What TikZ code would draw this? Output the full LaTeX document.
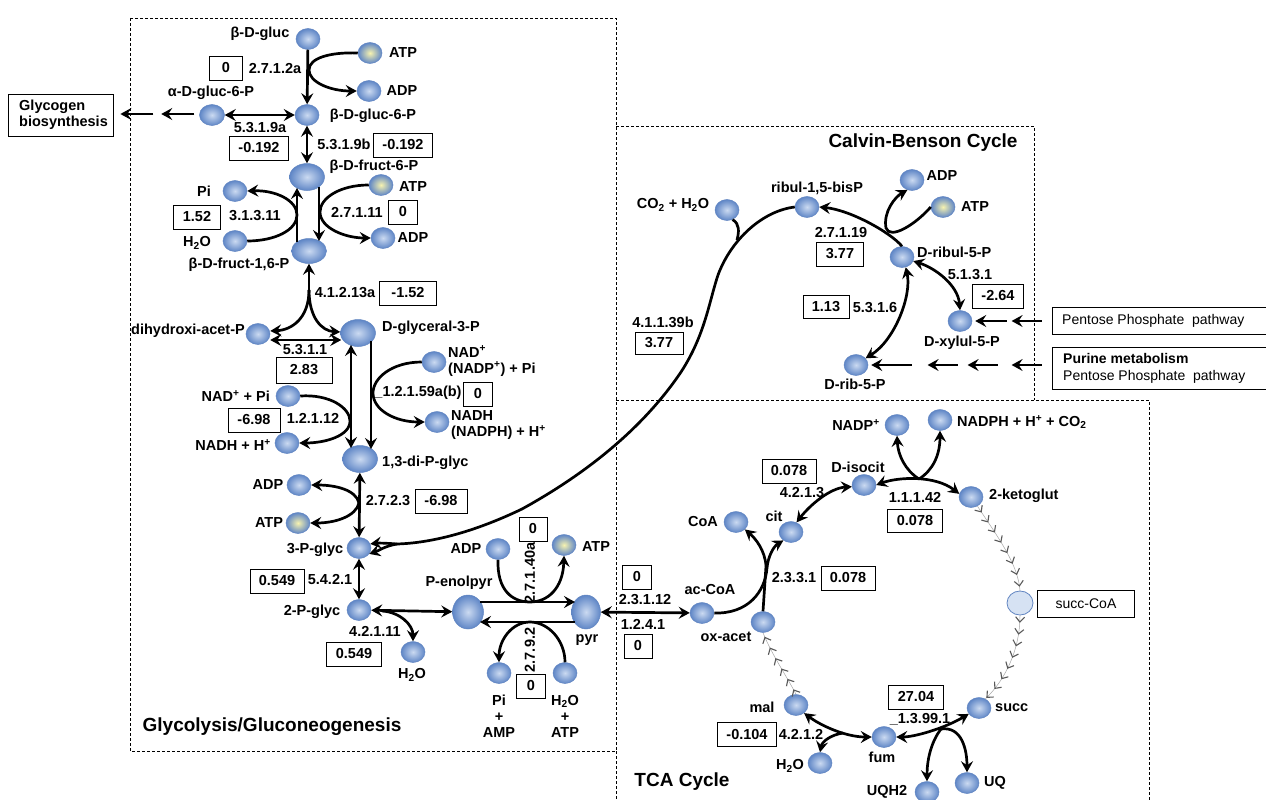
\documentclass[tikz,border=0pt]{standalone}
\usepackage{fontspec}
\setmainfont{Liberation Sans}
\usetikzlibrary{shapes.geometric,arrows.meta,calc,decorations.markings}
\definecolor{ci}{HTML}{CBDAF1}
\definecolor{co}{HTML}{5F86C6}
\definecolor{cb}{HTML}{6286C2}
\definecolor{yi}{HTML}{F7F3B0}
\definecolor{sc}{HTML}{D6E2F3}
\newcommand\labfont{\fontsize{14.5}{16}\selectfont\bfseries}
\newcommand\ttlfont{\fontsize{19}{22}\selectfont\bfseries}
\newcommand\boxfont{\fontsize{14}{17}\selectfont}
\begin{document}
\begin{tikzpicture}[x=1pt,y=-1pt,
  met/.style={ellipse, draw=cb, line width=0.5pt, inner color=ci, outer color=co, minimum width=24pt, minimum height=21pt, inner sep=0pt},
  metbig/.style={met, minimum width=35pt, minimum height=27pt},
  atpn/.style={met, inner color=yi},
  lab/.style={font=\labfont, inner sep=0pt},
  ttl/.style={font=\ttlfont, inner sep=0pt},
  num/.style={draw, line width=0.8pt, font=\labfont, inner sep=0pt, minimum height=24pt, minimum width=#1},
  num/.default=29pt,
  arr/.style={line width=2.7pt, -{Stealth[length=11pt,width=12pt,inset=4pt]}},
  darr/.style={line width=2.7pt, {Stealth[length=11pt,width=12pt,inset=4pt]}-{Stealth[length=11pt,width=12pt,inset=4pt]}},
  pln/.style={line width=2.7pt},
  dbox/.style={line width=0.7pt, dash pattern=on 3pt off 2pt},
  chev/.style={draw=gray!70, line width=0.5pt, postaction={decorate}, decoration={markings, mark=between positions 0.08 and 0.99 step 12pt with {\arrow[gray!70!black]{Straight Barb[length=5pt,width=9pt,line width=1.1pt]}}}},
]
\useasboundingbox (0,0) rectangle (1266,800);
\fill[white] (0,0) rectangle (1266,800);

% ---------- dashed region boxes
\draw[dbox] (130,18) rectangle (616,751);
\draw[dbox] (616,126) -- (1034,126) -- (1034,400);
\draw[dbox] (616,400) -- (1149,400) -- (1149,805);
\draw[dbox] (616,751) -- (616,805);

\node[ttl] (tglyc) at (272,727) {Glycolysis/Gluconeogenesis};
\node[ttl] (tcalv) at (923,143) {Calvin-Benson Cycle};
\node[ttl] (ttca) at (682,782) {TCA Cycle};

% ---------- side boxes
\node[draw, line width=0.8pt, minimum width=105pt, minimum height=42pt, inner sep=0pt] (glyb) at (60.5,115) {};
\node[lab, align=left, anchor=west] (tglyb) at (19,115) {Glycogen\\biosynthesis};
\node[draw, line width=0.8pt, minimum width=214pt, minimum height=27pt, inner sep=0pt] (ppp) at (1159,321) {};
\node[font=\boxfont, anchor=west, inner sep=0pt] (tppp) at (1062,321) {Pentose Phosphate\ \ pathway};
\node[draw, line width=0.8pt, minimum width=214pt, minimum height=42pt, inner sep=0pt] (pur) at (1159,368) {};
\node[font=\boxfont, anchor=west, inner sep=0pt, align=left] (tpur) at (1063,368) {\textbf{Purine metabolism}\\Pentose Phosphate\ \ pathway};

% ---------- glycolysis metabolites
\node[met] (gluc) at (308,39) {};
\node[atpn] (atp1) at (370,53) {};
\node[met] (adp1) at (369,91) {};
\node[met] (g6p) at (307,115) {};
\node[met, minimum width=25pt] (ag6p) at (212,115) {};
\node[metbig] (f6p) at (307,177) {};
\node[atpn] (atp2) at (381,185) {};
\node[met] (adp2) at (383,238) {};
\node[met] (pi1) at (235,191) {};
\node[met] (h2o1) at (235,241) {};
\node[metbig, minimum height=25pt] (f16p) at (309,251) {};
\node[met] (dhap) at (258,334) {};
\node[metbig] (gap) at (358,333) {};
\node[met] (nadpi2) at (434,362) {};
\node[met] (nadh2) at (437,422) {};
\node[met] (nadpi1) at (288,396) {};
\node[met] (nadh1) at (287,443) {};
\node[metbig] (bpg) at (360,459) {};
\node[met] (adp3) at (299,485) {};
\node[atpn] (atp3) at (298,523) {};
\node[met] (pg3) at (359,548) {};
\node[met] (pg2) at (359,610) {};
\node[met] (h2o2) at (413,652) {};
\node[met, minimum width=31pt, minimum height=34pt] (pep) at (468,612) {};
\node[met, minimum width=29pt, minimum height=34pt] (pyr) at (586,612) {};
\node[met] (adp4) at (498,549) {};
\node[atpn] (atp4) at (564,545) {};
\node[met] (piamp) at (499,673) {};
\node[met] (h2oatp) at (565,673) {};

% glycolysis labels
\node[lab] (t1) at (260,34) {β-D-gluc};
\node[lab] (t2) at (403,53) {ATP};
\node[lab] (t3) at (402,91) {ADP};
\node[lab] (t4) at (373,116) {β-D-gluc-6-P};
\node[lab] (t5) at (211,93) {α-D-gluc-6-P};
\node[num=33pt] (b1) at (226,68) {0};
\node[lab] (t6) at (275,69) {2.7.1.2a};
\node[lab] (t7) at (260,128) {5.3.1.9a};
\node[num=59pt] (b2) at (259,148) {-0.192};
\node[lab] (t8) at (344,144) {5.3.1.9b};
\node[num=59pt] (b3) at (403,145) {-0.192};
\node[lab] (t9) at (374,167) {β-D-fruct-6-P};
\node[lab] (t10) at (413,187) {ATP};
\node[lab] (t11) at (357,212) {2.7.1.11};
\node[num] (b4) at (403,212) {0};
\node[lab] (t12) at (413,238) {ADP};
\node[lab] (t13) at (204,191) {Pi};
\node[num=47pt] (b5) at (197,217) {1.52};
\node[lab] (t14) at (255,216) {3.1.3.11};
\node[lab] (t15) at (197,243) {H\textsubscript{2}O};
\node[lab] (t16) at (239,265) {β-D-fruct-1,6-P};
\node[lab] (t17) at (345,293) {4.1.2.13a};
\node[num=57pt] (b6) at (408,293) {-1.52};
\node[lab, anchor=east] (t18) at (245,331) {dihydroxi-acet-P};
\node[lab, anchor=west] (t19) at (382,328) {D-glyceral-3-P};
\node[lab] (t20) at (305,350) {5.3.1.1};
\node[num=56pt, minimum height=26pt] (b7) at (304,370) {2.83};
\node[lab, align=left, anchor=west] (t21) at (448,361) {NAD\textsuperscript{+}\\(NADP\textsuperscript{+}) + Pi};
\node[lab] (t22) at (418,393) {\_1.2.1.59a(b)};
\node[num] (b8) at (478,394) {0};
\node[lab, align=left, anchor=west] (t23) at (451,425) {NADH\\(NADPH) + H\textsuperscript{+}};
\node[lab, anchor=east] (t24) at (270,396) {NAD\textsuperscript{+} + Pi};
\node[num=52pt] (b9) at (254,420) {-6.98};
\node[lab] (t25) at (313,418) {1.2.1.12};
\node[lab, anchor=east] (t26) at (271,445) {NADH + H\textsuperscript{+}};
\node[lab, anchor=west] (t27) at (382,463) {1,3-di-P-glyc};
\node[lab] (t28) at (268,485) {ADP};
\node[lab] (t29) at (269,523) {ATP};
\node[lab] (t30) at (388,501) {2.7.2.3};
\node[num=52pt] (b10) at (441,501) {-6.98};
\node[lab] (t31) at (315,550) {3-P-glyc};
\node[num=54pt] (b11) at (277,581) {0.549};
\node[lab] (t32) at (330,580) {5.4.2.1};
\node[lab] (t33) at (312,612) {2-P-glyc};
\node[lab] (t34) at (375,631) {4.2.1.11};
\node[num=55pt] (b12) at (354,654) {0.549};
\node[lab] (t35) at (412,675) {H\textsubscript{2}O};
\node[num=28pt] (b13) at (533,529) {0};
\node[lab] (t36) at (466,549) {ADP};
\node[lab] (t37) at (596,547) {ATP};
\node[lab, rotate=90] (t38) at (530,573) {2.7.1.40a};
\node[lab] (t39) at (459,583) {P-enolpyr};
\node[lab] (t40) at (587,640) {pyr};
\node[lab, rotate=90] (t41) at (530,650) {2.7.9.2};
\node[num] (b14) at (531,686) {0};
\node[lab, align=center] (t42) at (499,716) {Pi\\+\\AMP};
\node[lab, align=center] (t43) at (565,716) {H\textsubscript{2}O\\+\\ATP};

% ---------- TCA
\node[num] (b15) at (637,577) {0};
\node[lab] (t44) at (645,600) {2.3.1.12};
\node[lab] (t45) at (643,624) {1.2.4.1};
\node[num=28pt] (b16) at (638,646) {0};
\node[met] (acoa) at (702,613) {};
\node[lab] (t46) at (710,590) {ac-CoA};
\node[met] (oxac) at (763,622) {};
\node[lab] (t47) at (726,637) {ox-acet};
\node[met] (coa) at (736,522) {};
\node[lab] (t48) at (703,522) {CoA};
\node[met] (cit) at (791,532) {};
\node[lab] (t49) at (774,516) {cit};
\node[lab] (t50) at (794,578) {2.3.3.1};
\node[num=54pt] (b17) at (848,578) {0.078};
\node[met] (isocit) at (864,485) {};
\node[lab] (t51) at (858,467) {D-isocit};
\node[num=54pt] (b18) at (789,471) {0.078};
\node[lab] (t52) at (802,493) {4.2.1.3};
\node[met] (nadp) at (897,425) {};
\node[lab] (t53) at (856,425) {NADP\textsuperscript{+}};
\node[met] (nadph) at (940,420) {};
\node[lab, anchor=west] (t54) at (957,422) {NADPH + H\textsuperscript{+} + CO\textsubscript{2}};
\node[met] (kg) at (971,497) {};
\node[lab, anchor=west] (t55) at (989,496) {2-ketoglut};
\node[lab] (t56) at (915,497) {1.1.1.42};
\node[num=55pt, minimum height=23pt] (b19) at (915,521) {0.078};
\node[ellipse, draw=cb, line width=0.8pt, fill=sc, minimum width=26pt, minimum height=24pt, inner sep=0pt] (succoa) at (1020,603) {};
\node[draw, line width=0.8pt, font=\boxfont, minimum width=97pt, minimum height=27pt, inner sep=0pt] (bsc) at (1086,604) {succ-CoA};
\node[met] (succ) at (979,708) {};
\node[lab, anchor=west] (t57) at (995,708) {succ};
\node[met] (fum) at (884,737) {};
\node[lab] (t58) at (882,757) {fum};
\node[met] (mal) at (796,705) {};
\node[lab] (t59) at (762,707) {mal};
\node[num=59pt] (b20) at (747,734) {-0.104};
\node[lab] (t60) at (801,734) {4.2.1.2};
\node[met] (h2o3) at (820,763) {};
\node[lab] (t61) at (790,766) {H\textsubscript{2}O};
\node[num=55pt] (b21) at (916,697) {27.04};
\node[lab] (t62) at (920,719) {\_1.3.99.1};
\node[met] (uqh2) at (927,792) {};
\node[lab] (t63) at (887,792) {UQH2};
\node[met] (uq) at (967,783) {};
\node[lab] (t64) at (995,783) {UQ};

% ---------- Calvin
\node[met] (co2) at (727,210) {};
\node[lab] (t65) at (673,205) {CO\textsubscript{2} + H\textsubscript{2}O};
\node[met] (rubp) at (807,207) {};
\node[lab] (t66) at (817,188) {ribul-1,5-bisP};
\node[met] (adp5) at (912,180) {};
\node[lab] (t67) at (942,176) {ADP};
\node[atpn] (atp5) at (943,207) {};
\node[lab] (t68) at (975,207) {ATP};
\node[met] (ru5p) at (902,257) {};
\node[lab, anchor=west] (t69) at (917,252) {D-ribul-5-P};
\node[lab] (t70) at (841,233) {2.7.1.19};
\node[num=47pt] (b22) at (840,254) {3.77};
\node[lab] (t71) at (663,322) {4.1.1.39b};
\node[num=48pt, minimum height=22pt] (b23) at (659,343) {3.77};
\node[num=46pt, minimum height=23pt] (b24) at (826,307) {1.13};
\node[lab] (t72) at (875,308) {5.3.1.6};
\node[met] (r5p) at (856,365) {};
\node[lab] (t73) at (855,384) {D-rib-5-P};
\node[lab] (t74) at (970,275) {5.1.3.1};
\node[num=51pt] (b25) at (998,296) {-2.64};
\node[met] (xu5p) at (960,321) {};
\node[lab] (t75) at (962,343) {D-xylul-5-P};

% ---------- glycolysis connectors
\draw[arr] (gluc) -- (g6p);
\draw[arr] (atp1.west) .. controls (330,52) and (309,58) .. (309,70) .. controls (309,82) and (330,91) .. (adp1.west);
\draw[darr] (ag6p) -- (g6p);
\draw[arr] ($(ag6p.west)+(-5,-1)$) -- ($(ag6p.west)+(-38,-1)$);
\draw[arr] ($(glyb.east)+(40,-1)$) -- ($(glyb.east)+(7,-1)$);
\draw[darr] (g6p) -- (f6p);
\draw[arr] ($(f6p.center)+(12,10)$) -- ($(f16p.center)+(10,-10)$);
\draw[arr] (atp2.west) .. controls (340,185) and (320,198) .. (320,212) .. controls (320,228) and (345,238) .. (adp2.west);
\draw[arr] ($(f16p.center)+(-12,-9)$) -- ($(f6p.center)+(-10,11)$);
\draw[arr] (h2o1.east) .. controls (275,241) and (297,230) .. (297,215) .. controls (297,200) and (275,190) .. (pi1.east);
\coordinate (j1) at (309,290);
\draw[arr] (j1) -- (f16p.south);
\draw[arr] (j1) .. controls (309,318) and (292,330) .. ($(dhap.east)+(0,-3)$);
\draw[arr] (j1) .. controls (309,318) and (322,331) .. ($(gap.west)+(0,-1)$);
\draw[darr] ($(dhap.east)+(0,6)$) -- ($(gap.west)+(1,7)$);
\draw[darr] ($(gap.center)+(-7,12)$) -- ($(bpg.center)+(-9,-11)$);
\draw[arr] ($(gap.center)+(13,8)$) -- ($(bpg.center)+(11,-10)$);
\draw[arr] (nadpi1.east) .. controls (330,394) and (350,408) .. (350,421) .. controls (350,436) and (325,443) .. (nadh1.east);
\draw[arr] (nadpi2.west) .. controls (392,362) and (373,378) .. (373,393) .. controls (373,410) and (395,422) .. (nadh2.west);
\draw[darr] (bpg) -- (pg3);
\coordinate (j3) at (359,503);
\draw[arr] (j3) .. controls (356,490) and (336,485) .. (adp3.east);
\draw[arr] (j3) .. controls (356,516) and (336,523) .. (atp3.east);
\draw[darr] (pg3) -- (pg2);
\draw[darr] (pg2) -- (pep);
\coordinate (j4) at (382,611);
\draw[arr] (j4) .. controls (400,612) and (413,625) .. (h2o2.north);
\draw[arr] ($(pep.center)+(12,-10)$) -- ($(pyr.center)+(-11,-10)$);
\draw[arr] (adp4.south) .. controls (497,590) and (512,602) .. (530,602) .. controls (548,602) and (563,588) .. (atp4.south);
\draw[arr] ($(pyr.center)+(-11,10)$) -- ($(pep.center)+(12,10)$);
\draw[arr] (h2oatp.north) .. controls (565,640) and (548,622) .. (530,622) .. controls (512,622) and (499,640) .. (piamp.north);

% ---------- TCA connectors
\draw[darr] (pyr) -- (acoa);
\coordinate (j5) at (766,566);
\draw[arr] (acoa.east) .. controls (748,614) and (765,592) .. (767,568) .. controls (768,556) and (774,546) .. (cit.228);
\draw[pln] (oxac.north) -- (j5);
\draw[arr] (j5) .. controls (765,550) and (755,538) .. (coa.-40);
\draw[darr] (cit.60) .. controls (810,505) and (830,488) .. (isocit.188);
\coordinate (j6) at (919,479);
\draw[darr] (isocit.east) .. controls (898,477) and (935,475) .. (kg.165);
\draw[arr] (j6) .. controls (905,470) and (898,455) .. (nadp.south);
\draw[arr] (j6) .. controls (933,470) and (940,455) .. (nadph.south);
\draw[chev] (kg.-55) .. controls (1000,540) and (1018,565) .. (succoa.north);
\draw[chev] (succoa.south) .. controls (1020,650) and (1005,680) .. (succ.55);
\draw[chev] (mal.north) .. controls (786,675) and (772,655) .. (oxac.south);
\coordinate (j7) at (941,729);
\draw[darr] (fum.east) .. controls (915,737) and (945,728) .. (succ.-150);
\draw[arr] (j7) .. controls (931,742) and (927,760) .. (uqh2.north);
\draw[arr] (j7) .. controls (962,726) and (967,750) .. (uq.north);
\coordinate (j8) at (843,733);
\draw[darr] (mal.-45) .. controls (820,725) and (845,737) .. (fum.west);
\draw[arr] (j8) .. controls (830,735) and (822,742) .. (h2o3.north);

% ---------- Calvin connectors
\draw[arr] (ru5p.north) .. controls (890,232) and (850,210) .. (rubp.east);
\draw[arr] (atp5.west) .. controls (915,225) and (890,240) .. (886,228) .. controls (883,212) and (895,197) .. (adp5.-115);
\coordinate (j9) at (397,544);
\draw[pln] (rubp.west) .. controls (762,211) and (731,240) .. (718,275)
   .. controls (709,302) and (705,335) .. (681,372)
   .. controls (650,418) and (600,466) .. (522,509)
   .. controls (472,533) and (430,543) .. (j9);
\draw[pln] (co2.-60) .. controls (740,224) and (739,232) .. (737,240);
\draw[arr] (j9) .. controls (385,543) and (378,543) .. (pg3.20);
\draw[arr] (j9) .. controls (385,546) and (378,551) .. (pg3.-30);
\draw[darr] (ru5p.-70) .. controls (912,295) and (895,340) .. (r5p.35);
\draw[darr] (ru5p.-20) .. controls (935,268) and (958,285) .. (xu5p.north);
\draw[arr] ($(ppp.west)+(-10,0)$) -- ($(ppp.west)+(-40,0)$);
\draw[arr] ($(ppp.west)+(-45,0)$) -- ($(xu5p.east)+(3,0)$);
\draw[arr] ($(pur.west)+(-10,-3)$) -- ($(pur.west)+(-40,-3)$);
\draw[arr] ($(pur.west)+(-54,-3)$) -- ($(pur.west)+(-84,-3)$);
\draw[arr] ($(pur.west)+(-94,-3)$) -- ($(pur.west)+(-124,-3)$);
\draw[arr] ($(pur.west)+(-140,-3)$) -- ($(r5p.east)+(3,0)$);
\end{tikzpicture}
\end{document}
